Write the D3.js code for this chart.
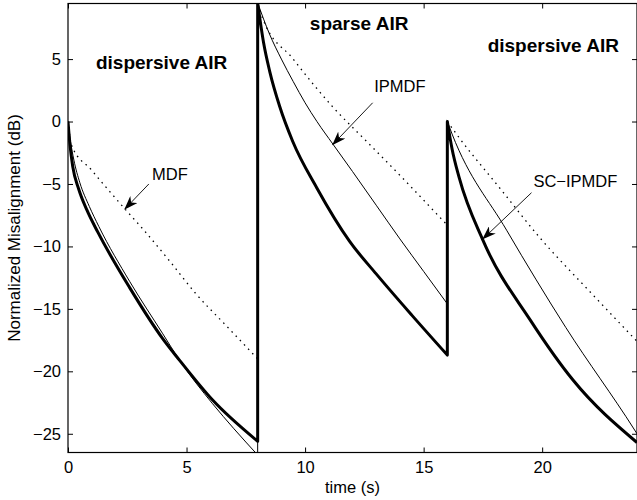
<!DOCTYPE html>
<html>
<head>
<meta charset="utf-8">
<script src="https://cdn.jsdelivr.net/npm/d3@7"></script>
<style>
  body { margin: 0; background: #fff; }
  text { font-family: "Liberation Sans", Arial, sans-serif; fill: #000; }
</style>
</head>
<body>
<div id="chart"></div>
<script>
// x ticks / y ticks
const xTicks = [0, 5, 10, 15, 20];
const yTicks = [-25, -20, -15, -10, -5, 0, 5];

// MDF (dotted)
const mdfT = [0, 0.15, 1, 2.4, 3.2, 4.3, 5.4, 6.7, 8,
              8, 8.2, 9.5, 11.2, 12.6, 14.2, 15.8, 16,
              16, 16.5, 18.2, 19.9, 22, 24];
const mdfV = [0, -1.9, -3.9, -7.0, -8.7, -11.2, -13.8, -16.4, -19.0,
              9.5, 8.3, 5.0, 1.1, -1.6, -4.7, -7.9, -8.3,
              0, -1.3, -5.3, -9.3, -13.6, -17.6];

// IPMDF (thin)
const ipmdfT = [0, 0.1, 0.25, 0.5, 0.9, 1.3, 2.6, 4, 4.7, 6.1, 7, 8,
                8, 8.5, 9, 9.5, 10, 10.5, 11.17, 12, 13, 14, 15, 16,
                16, 16.2, 18.5, 21, 23.9, 24];
const ipmdfV = [0, -1.5, -3.1, -4.9, -6.8, -8.4, -12.8, -17.0, -19.1, -22.6, -24.6, -26.7,
                9.5, 7.0, 5.0, 3.2, 1.5, 0.0, -1.8, -4.0, -6.7, -9.4, -12.0, -14.6,
                0, -1.0, -8.7, -16.5, -24.7, -25.0];

// SC-IPMDF (thick)
const scT = [0, 0.08, 0.2, 0.45, 0.8, 1.27, 2.6, 4, 4.7, 6.1, 8,
             8, 8.25, 8.51, 8.93, 9.48, 10.49, 11.88, 13, 14.5, 16,
             16, 16.2, 16.5, 17.5, 19.5, 21.3, 24];
const scV = [0, -1.8, -3.6, -5.4, -7.1, -8.9, -13.3, -17.4, -19.1, -22.3, -25.6,
             9.5, 6.3, 4.0, 1.2, -1.6, -5.3, -9.6, -12.2, -15.5, -18.7,
             0, -2.2, -4.5, -9.5, -15.9, -20.7, -25.7];

// 區域標籤
const regionNames = ["dispersive AIR", "sparse AIR", "dispersive AIR"];
const regionT = [1.18, 10.2, 17.7];
const regionV = [4.2, 7.3, 5.6];

// 箭頭註解
const noteNames = ["MDF", "IPMDF", "SC\u2212IPMDF"];
const noteTextT = [4.3, 14.0, 21.4];
const noteTextV = [-4.3, 2.7, -4.9];
const noteTailT = [3.41, 12.85, 19.55];
const noteTailV = [-5.0, 1.5, -5.7];
const noteTipT = [2.4, 11.17, 17.5];
const noteTipV = [-7.0, -1.84, -9.4];

const width = 637;
const height = 500;
const margin = { top: 3.5, right: 0, bottom: 47.5, left: 68 };

const svg = d3.select("#chart")
    .append("svg")
    .attr("width", width)
    .attr("height", height);

const xScale = d3.scaleLinear()
    .domain([0, 24])
    .range([margin.left, width - margin.right]);

const yScale = d3.scaleLinear()
    .domain([-26.5, 9.45])
    .range([height - margin.bottom, margin.top]);

const defs = svg.append("defs");
defs.append("clipPath")
    .attr("id", "plotClip")
    .append("rect")
    .attr("x", margin.left)
    .attr("y", margin.top)
    .attr("width", width - margin.left - margin.right)
    .attr("height", height - margin.top - margin.bottom);

defs.append("marker")
    .attr("id", "arrowHead")
    .attr("markerUnits", "userSpaceOnUse")
    .attr("viewBox", "0 0 14 10")
    .attr("refX", 13)
    .attr("refY", 5)
    .attr("markerWidth", 14)
    .attr("markerHeight", 10)
    .attr("orient", "auto")
    .append("path")
    .attr("d", "M0,0 L14,5 L0,10 L4,5 Z")
    .attr("fill", "#000");

// 每段平滑曲線, 在跳點處用直線連起來
const segLine = d3.line()
    .x(d => xScale(d[0]))
    .y(d => yScale(d[1]))
    .curve(d3.curveMonotoneX);

const buildPath = (ts, vs) => {
    const segs = [];
    let cur = [];
    ts.forEach((t, i) => {
        if (i > 0 && t === ts[i - 1]) {
            segs.push(cur);
            cur = [];
        }
        cur.push([t, vs[i]]);
    });
    segs.push(cur);
    return segs.map((s, i) => {
        const p = segLine(s);
        return i === 0 ? p : "L" + p.slice(1);
    }).join("");
};

const plot = svg.append("g").attr("clip-path", "url(#plotClip)");

// 畫三條曲線
plot.append("path")
    .attr("d", buildPath(mdfT, mdfV))
    .attr("fill", "none")
    .attr("stroke", "#000")
    .attr("stroke-width", 1.3)
    .attr("stroke-dasharray", "1.5,4.5");

plot.append("path")
    .attr("d", buildPath(ipmdfT, ipmdfV))
    .attr("fill", "none")
    .attr("stroke", "#000")
    .attr("stroke-width", 1);

plot.append("path")
    .attr("d", buildPath(scT, scV))
    .attr("fill", "none")
    .attr("stroke", "#000")
    .attr("stroke-width", 3)
    .attr("stroke-linejoin", "round");

// 外框
svg.append("rect")
    .attr("x", margin.left)
    .attr("y", margin.top)
    .attr("width", width - margin.left - margin.right)
    .attr("height", height - margin.top - margin.bottom)
    .attr("fill", "none")
    .attr("stroke", "#000")
    .attr("stroke-width", 1.2);

// 軸 (刻度朝內, 四邊)
const tickLen = 5;
svg.append("g")
    .attr("transform", `translate(0, ${height - margin.bottom})`)
    .call(d3.axisBottom(xScale).tickValues(xTicks).tickSize(-tickLen).tickPadding(9))
    .call(g => g.select(".domain").remove())
    .selectAll("text")
    .style("font-size", "16.5px");

svg.append("g")
    .attr("transform", `translate(0, ${margin.top})`)
    .call(d3.axisTop(xScale).tickValues(xTicks).tickSize(-tickLen).tickFormat(""))
    .call(g => g.select(".domain").remove());

svg.append("g")
    .attr("transform", `translate(${margin.left}, 0)`)
    .call(d3.axisLeft(yScale).tickValues(yTicks).tickSize(-tickLen).tickPadding(7))
    .call(g => g.select(".domain").remove())
    .selectAll("text")
    .style("font-size", "16.5px");

svg.append("g")
    .attr("transform", `translate(${width - margin.right}, 0)`)
    .call(d3.axisRight(yScale).tickValues(yTicks).tickSize(-tickLen).tickFormat(""))
    .call(g => g.select(".domain").remove());

svg.selectAll(".tick line").attr("stroke", "#000");

// 軸標籤
svg.append("text")
    .attr("x", (margin.left + width - margin.right) / 2)
    .attr("y", 493)
    .attr("text-anchor", "middle")
    .style("font-size", "16.5px")
    .text("time (s)");

svg.append("text")
    .attr("transform", `translate(20, ${(margin.top + height - margin.bottom) / 2}) rotate(-90)`)
    .attr("text-anchor", "middle")
    .style("font-size", "17px")
    .text("Normalized Misalignment (dB)");

// 區域標籤
svg.selectAll(".region")
    .data(regionNames)
    .enter()
    .append("text")
    .attr("class", "region")
    .attr("x", (d, i) => xScale(regionT[i]))
    .attr("y", (d, i) => yScale(regionV[i]))
    .style("font-size", "19px")
    .style("font-weight", "bold")
    .text(d => d);

// 註解箭頭
svg.selectAll(".noteLine")
    .data(noteNames)
    .enter()
    .append("line")
    .attr("class", "noteLine")
    .attr("x1", (d, i) => xScale(noteTailT[i]))
    .attr("y1", (d, i) => yScale(noteTailV[i]))
    .attr("x2", (d, i) => xScale(noteTipT[i]))
    .attr("y2", (d, i) => yScale(noteTipV[i]))
    .attr("stroke", "#000")
    .attr("stroke-width", 0.9)
    .attr("marker-end", "url(#arrowHead)");

svg.selectAll(".noteText")
    .data(noteNames)
    .enter()
    .append("text")
    .attr("class", "noteText")
    .attr("x", (d, i) => xScale(noteTextT[i]))
    .attr("y", (d, i) => yScale(noteTextV[i]))
    .attr("text-anchor", "middle")
    .attr("dominant-baseline", "middle")
    .style("font-size", "16.5px")
    .text(d => d);
</script>
</body>
</html>
